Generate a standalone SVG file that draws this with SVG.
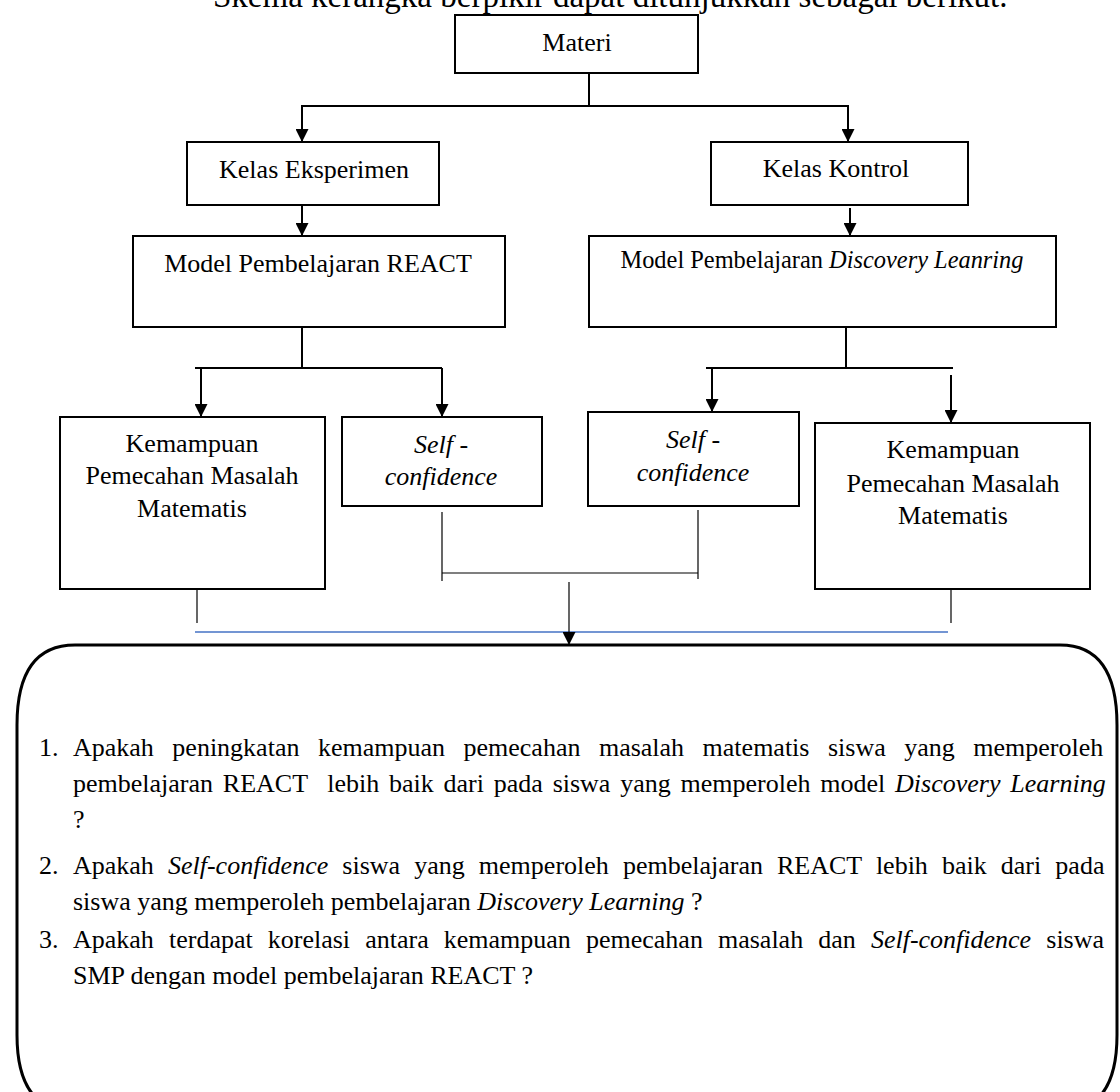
<svg xmlns="http://www.w3.org/2000/svg" width="1120" height="1092" viewBox="0 0 1120 1092">
<style>
.box{fill:#fff;stroke:#000;stroke-width:2}
.ln{stroke:#000;stroke-width:2;fill:none}
.thin{stroke:#000;stroke-width:1.2;fill:none}
.t{font-family:"Liberation Serif","Times New Roman",serif;font-size:26px;fill:#000}
.c{text-anchor:middle}
.i{font-style:italic}
</style>
<defs>
<marker id="ah" viewBox="0 0 10 10" refX="10" refY="5" markerWidth="15" markerHeight="13" markerUnits="userSpaceOnUse" orient="auto">
<path d="M0,0 L10,5 L0,10 Z" fill="#000"/>
</marker>
</defs>
<rect width="1120" height="1092" fill="#fff"/>
<text class="t" x="213" y="7" style="font-size:33px">Skema kerangka berpikir dapat ditunjukkan sebagai berikut.</text>

<g id="connectors">
<line class="ln" x1="589" y1="73" x2="589" y2="106"/>
<polyline class="ln" points="302,142 302,106 848,106 848,142" marker-end="url(#ah)"/>
<line class="ln" x1="302" y1="106" x2="302" y2="142" marker-end="url(#ah)"/>
<line class="ln" x1="302" y1="205" x2="302" y2="236" marker-end="url(#ah)"/>
<line class="ln" x1="850" y1="208" x2="850" y2="236" marker-end="url(#ah)"/>
<line class="ln" x1="302" y1="327" x2="302" y2="368"/>
<line class="ln" x1="195" y1="368" x2="442" y2="368"/>
<line class="ln" x1="201" y1="368" x2="201" y2="417" marker-end="url(#ah)"/>
<line class="ln" x1="442" y1="368" x2="442" y2="417" marker-end="url(#ah)"/>
<line class="ln" x1="846" y1="327" x2="846" y2="368"/>
<line class="ln" x1="706" y1="368" x2="953" y2="368"/>
<line class="ln" x1="712" y1="368" x2="712" y2="412" marker-end="url(#ah)"/>
<line class="ln" x1="951" y1="375" x2="951" y2="423" marker-end="url(#ah)"/>
<line class="thin" x1="442" y1="512" x2="442" y2="581"/>
<line class="thin" x1="698" y1="510" x2="698" y2="579"/>
<line class="thin" x1="442" y1="573" x2="698" y2="573"/>
<line class="thin" x1="197" y1="589" x2="197" y2="623"/>
<line class="thin" x1="951" y1="589" x2="951" y2="623"/>
<line x1="195" y1="632" x2="948" y2="632" stroke="#4472c4" stroke-width="1.6"/>
<line class="thin" x1="569" y1="582" x2="569" y2="645" marker-end="url(#ah)"/>
</g>

<g id="materi">
<rect class="box" x="455" y="15" width="243" height="58"/>
<text class="t c" x="577" y="51">Materi</text>
</g>
<g id="kelas-eksperimen">
<rect class="box" x="187" y="142" width="252" height="63"/>
<text class="t c" x="314" y="178">Kelas Eksperimen</text>
</g>
<g id="kelas-kontrol">
<rect class="box" x="711" y="142" width="257" height="63"/>
<text class="t c" x="836" y="177">Kelas Kontrol</text>
</g>
<g id="model-react">
<rect class="box" x="133" y="236" width="372" height="91"/>
<text class="t c" x="318" y="272">Model Pembelajaran REACT</text>
</g>
<g id="model-discovery">
<rect class="box" x="589" y="236" width="467" height="91"/>
<text class="t c" x="822" y="268" style="font-size:24.4px">Model Pembelajaran <tspan class="i">Discovery Leanring</tspan></text>
</g>
<g id="kemampuan-kiri">
<rect class="box" x="60" y="417" width="265" height="172"/>
<text class="t c" x="192" y="452">Kemampuan</text>
<text class="t c" x="192" y="484">Pemecahan Masalah</text>
<text class="t c" x="192" y="517">Matematis</text>
</g>
<g id="self-kiri">
<rect class="box" x="342" y="417" width="200" height="89"/>
<text class="t c" x="441" y="453"><tspan class="i">Self</tspan> -</text>
<text class="t c i" x="441" y="485">confidence</text>
</g>
<g id="self-kanan">
<rect class="box" x="588" y="412" width="211" height="94"/>
<text class="t c" x="693" y="448"><tspan class="i">Self</tspan> -</text>
<text class="t c i" x="693" y="481">confidence</text>
</g>
<g id="kemampuan-kanan">
<rect class="box" x="815" y="423" width="275" height="166"/>
<text class="t c" x="953" y="458">Kemampuan</text>
<text class="t c" x="953" y="492">Pemecahan Masalah</text>
<text class="t c" x="953" y="524">Matematis</text>
</g>

<g id="rumusan">
<path d="M75,645 L1060,645 Q1117,645 1117,725 L1117,1035 Q1117,1112 1060,1112 L75,1112 Q17,1112 17,1035 L17,725 Q17,645 75,645 Z" fill="none" stroke="#000" stroke-width="3"/>
<text class="t" x="39" y="756">1.</text>
<text class="t" x="73" y="756" word-spacing="12">Apakah peningkatan kemampuan pemecahan masalah matematis siswa yang memperoleh</text>
<text class="t" x="73" y="792" word-spacing="3.3" xml:space="preserve">pembelajaran REACT  lebih baik dari pada siswa yang memperoleh model <tspan class="i">Discovery Learning</tspan></text>
<text class="t" x="73" y="828">?</text>
<text class="t" x="39" y="874">2.</text>
<text class="t" x="73" y="874" word-spacing="7.6">Apakah <tspan class="i">Self-confidence</tspan> siswa yang memperoleh pembelajaran REACT lebih baik dari pada</text>
<text class="t" x="73" y="910">siswa yang memperoleh pembelajaran <tspan class="i">Discovery Learning</tspan> ?</text>
<text class="t" x="39" y="948">3.</text>
<text class="t" x="73" y="948" word-spacing="8.6">Apakah terdapat korelasi antara kemampuan pemecahan masalah dan <tspan class="i">Self-confidence</tspan> siswa</text>
<text class="t" x="73" y="984">SMP dengan model pembelajaran REACT ?</text>
</g>
</svg>
